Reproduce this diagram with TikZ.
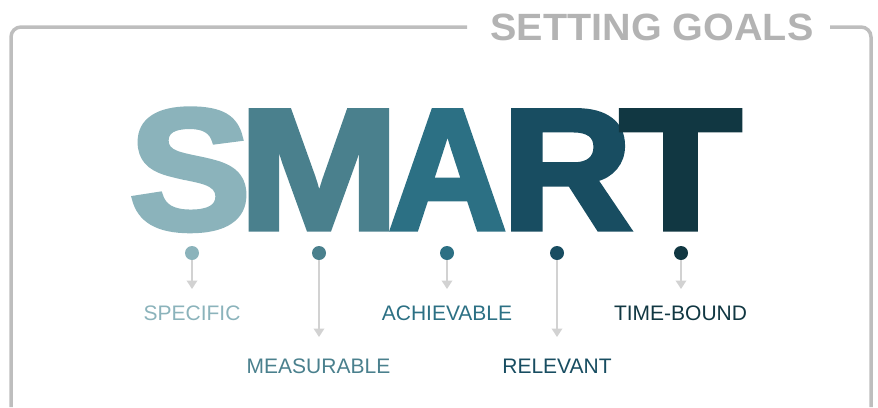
\documentclass[tikz,border=0pt]{standalone}
\usepackage{fontspec}
\usepackage{graphicx}
\setmainfont{Liberation Sans}
\newfontfamily\heavyface[FakeBold=3]{Liberation Sans Bold}
\usetikzlibrary{arrows.meta}

% letter palette, light to dark
\definecolor{cS}{HTML}{8BB3BB}
\definecolor{cM}{HTML}{4A808D}
\definecolor{cA}{HTML}{2C7084}
\definecolor{cR}{HTML}{184D61}
\definecolor{cT}{HTML}{113742}
\definecolor{framegray}{HTML}{BEBEBE}
\definecolor{titlegray}{HTML}{B3B3B3}
\definecolor{pointergray}{HTML}{D2D2D2}

\begin{document}
\begin{tikzpicture}[x=1pt,y=-1pt,
  bigletter/.style={inner sep=0pt, anchor=base, font=\fontsize{172}{172}\selectfont\heavyface},
  dotnode/.style={circle, inner sep=0pt, minimum size=14pt, draw=none},
  pointer/.style={draw=pointergray, line width=2pt, -{Triangle[width=10.5pt,length=8.5pt]}},
  lbl/.style={inner sep=0pt, anchor=base, font=\fontsize{21}{21}\selectfont},
  framestroke/.style={draw=framegray, line width=3.5pt, rounded corners=10pt},
]
\useasboundingbox (0,0) rectangle (878,407);

% outer frame, broken by the title
\draw[framestroke] (467,27) -| (11,407);
\draw[framestroke] (830,27) -| (871,407);
\node[inner sep=0pt, anchor=base, text=titlegray,
      font=\fontsize{38}{38}\selectfont\bfseries] (title) at (652,40.5)
      {\scalebox{1.04}[1]{SETTING GOALS}};

% the acronym, each letter overlapping the one before
\node[bigletter, text=cS] (S) at (190,229) {\scalebox{1.06}[1]{S}};
\node[bigletter, text=cM] (M) at (319,229) {\scalebox{1.12}[1]{M}};
\node[bigletter, text=cA] (A) at (447.5,229) {\scalebox{0.95}[1]{A}};
\node[bigletter, text=cR] (R) at (567,229) {\scalebox{1.05}[1]{R}};
\node[bigletter, text=cT] (T) at (680.5,229) {\scalebox{1.16}[1]{T}};

% markers under the letters
\node[dotnode, fill=cS] (dS) at (192,253) {};
\node[dotnode, fill=cM] (dM) at (319,253) {};
\node[dotnode, fill=cA] (dA) at (447,253) {};
\node[dotnode, fill=cR] (dR) at (557,253) {};
\node[dotnode, fill=cT] (dT) at (681,253) {};

% arrow ends
\coordinate (tS) at (192,289);
\coordinate (tM) at (319,337);
\coordinate (tA) at (447,289);
\coordinate (tR) at (557,337);
\coordinate (tT) at (681,289);

\draw[pointer] (dS) -- (tS);
\draw[pointer] (dM) -- (tM);
\draw[pointer] (dA) -- (tA);
\draw[pointer] (dR) -- (tR);
\draw[pointer] (dT) -- (tT);

% captions
\node[lbl, text=cS] (lS) at (192,320.5) {SPECIFIC};
\node[lbl, text=cM] (lM) at (318.5,373.5) {MEASURABLE};
\node[lbl, text=cA] (lA) at (447,320.5) {ACHIEVABLE};
\node[lbl, text=cR] (lR) at (557,373.5) {RELEVANT};
\node[lbl, text=cT] (lT) at (680.5,320.5) {TIME-BOUND};
\end{tikzpicture}
\end{document}
